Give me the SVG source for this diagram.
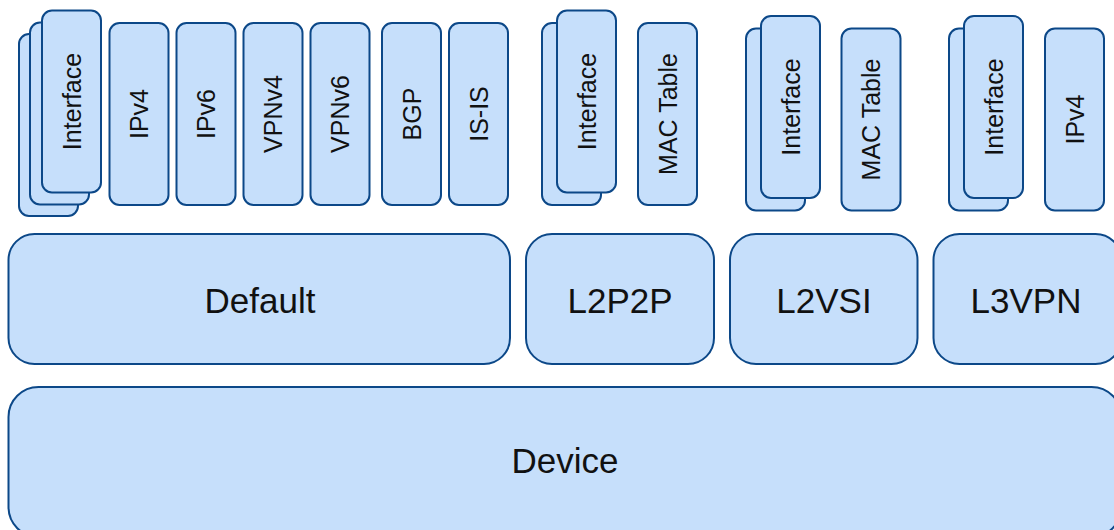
<svg xmlns="http://www.w3.org/2000/svg" width="1114" height="530" viewBox="0 0 1114 530">
<style>
.b{fill:#c6dffb;stroke:#0c4888;stroke-width:2}
.v{font-family:"Liberation Sans",Arial,sans-serif;font-size:25px;fill:#111;text-anchor:middle}
.h{font-family:"Liberation Sans",Arial,sans-serif;font-size:35px;fill:#111;text-anchor:middle}
</style>
<rect width="1114" height="530" fill="#fff"/>
<g id="device"><rect class="b" x="8.5" y="387" width="1113" height="150" rx="30"/><text class="h" x="565" y="473">Device</text></g>
<g id="default"><rect class="b" x="8.5" y="234" width="501.5" height="130" rx="26"/><text class="h" x="260" y="313">Default</text></g>
<g id="l2p2p"><rect class="b" x="526" y="234" width="188" height="130" rx="26"/><text class="h" x="620" y="313">L2P2P</text></g>
<g id="l2vsi"><rect class="b" x="730" y="234" width="187.5" height="130" rx="26"/><text class="h" x="824" y="313">L2VSI</text></g>
<g id="l3vpn"><rect class="b" x="933.5" y="234" width="188" height="130" rx="26"/><text class="h" x="1026" y="313">L3VPN</text></g>
<g id="default-interface">
<rect class="b" x="19" y="34" width="59" height="182" rx="10"/>
<rect class="b" x="30" y="22.5" width="59" height="182" rx="10"/>
<rect class="b" x="42" y="10.5" width="59" height="182" rx="10"/>
<text class="v" transform="translate(71.5,101.5) rotate(-90)" dy="0.36em">Interface</text>
</g>
<g id="default-ipv4"><rect class="b" x="109.5" y="23" width="59" height="182" rx="10"/><text class="v" transform="translate(139,114) rotate(-90)" dy="0.36em">IPv4</text></g>
<g id="default-ipv6"><rect class="b" x="176.5" y="23" width="59" height="182" rx="10"/><text class="v" transform="translate(206,114) rotate(-90)" dy="0.36em">IPv6</text></g>
<g id="default-vpnv4"><rect class="b" x="243.5" y="23" width="59" height="182" rx="10"/><text class="v" transform="translate(273,114) rotate(-90)" dy="0.36em">VPNv4</text></g>
<g id="default-vpnv6"><rect class="b" x="310.5" y="23" width="59" height="182" rx="10"/><text class="v" transform="translate(340,114) rotate(-90)" dy="0.36em">VPNv6</text></g>
<g id="default-bgp"><rect class="b" x="382" y="23" width="59" height="182" rx="10"/><text class="v" transform="translate(411.5,114) rotate(-90)" dy="0.36em">BGP</text></g>
<g id="default-isis"><rect class="b" x="449" y="23" width="59" height="182" rx="10"/><text class="v" transform="translate(478.5,114) rotate(-90)" dy="0.36em">IS-IS</text></g>
<g id="l2p2p-interface">
<rect class="b" x="542" y="23" width="59" height="182" rx="10"/>
<rect class="b" x="557" y="10.5" width="59" height="182" rx="10"/>
<text class="v" transform="translate(586.5,101.5) rotate(-90)" dy="0.36em">Interface</text>
</g>
<g id="l2p2p-mac"><rect class="b" x="638" y="23" width="59" height="182" rx="10"/><text class="v" transform="translate(667.5,114) rotate(-90)" dy="0.36em">MAC Table</text></g>
<g id="l2vsi-interface">
<rect class="b" x="746" y="28.5" width="59" height="182" rx="10"/>
<rect class="b" x="761" y="16" width="59" height="182" rx="10"/>
<text class="v" transform="translate(790.5,107) rotate(-90)" dy="0.36em">Interface</text>
</g>
<g id="l2vsi-mac"><rect class="b" x="841.5" y="28.5" width="59" height="182" rx="10"/><text class="v" transform="translate(871,119.5) rotate(-90)" dy="0.36em">MAC Table</text></g>
<g id="l3vpn-interface">
<rect class="b" x="949" y="28.5" width="59" height="182" rx="10"/>
<rect class="b" x="964" y="16" width="59" height="182" rx="10"/>
<text class="v" transform="translate(993.5,107) rotate(-90)" dy="0.36em">Interface</text>
</g>
<g id="l3vpn-ipv4"><rect class="b" x="1045" y="28.5" width="59" height="182" rx="10"/><text class="v" transform="translate(1074.5,119.5) rotate(-90)" dy="0.36em">IPv4</text></g>
<g id="connectors"></g>
</svg>
